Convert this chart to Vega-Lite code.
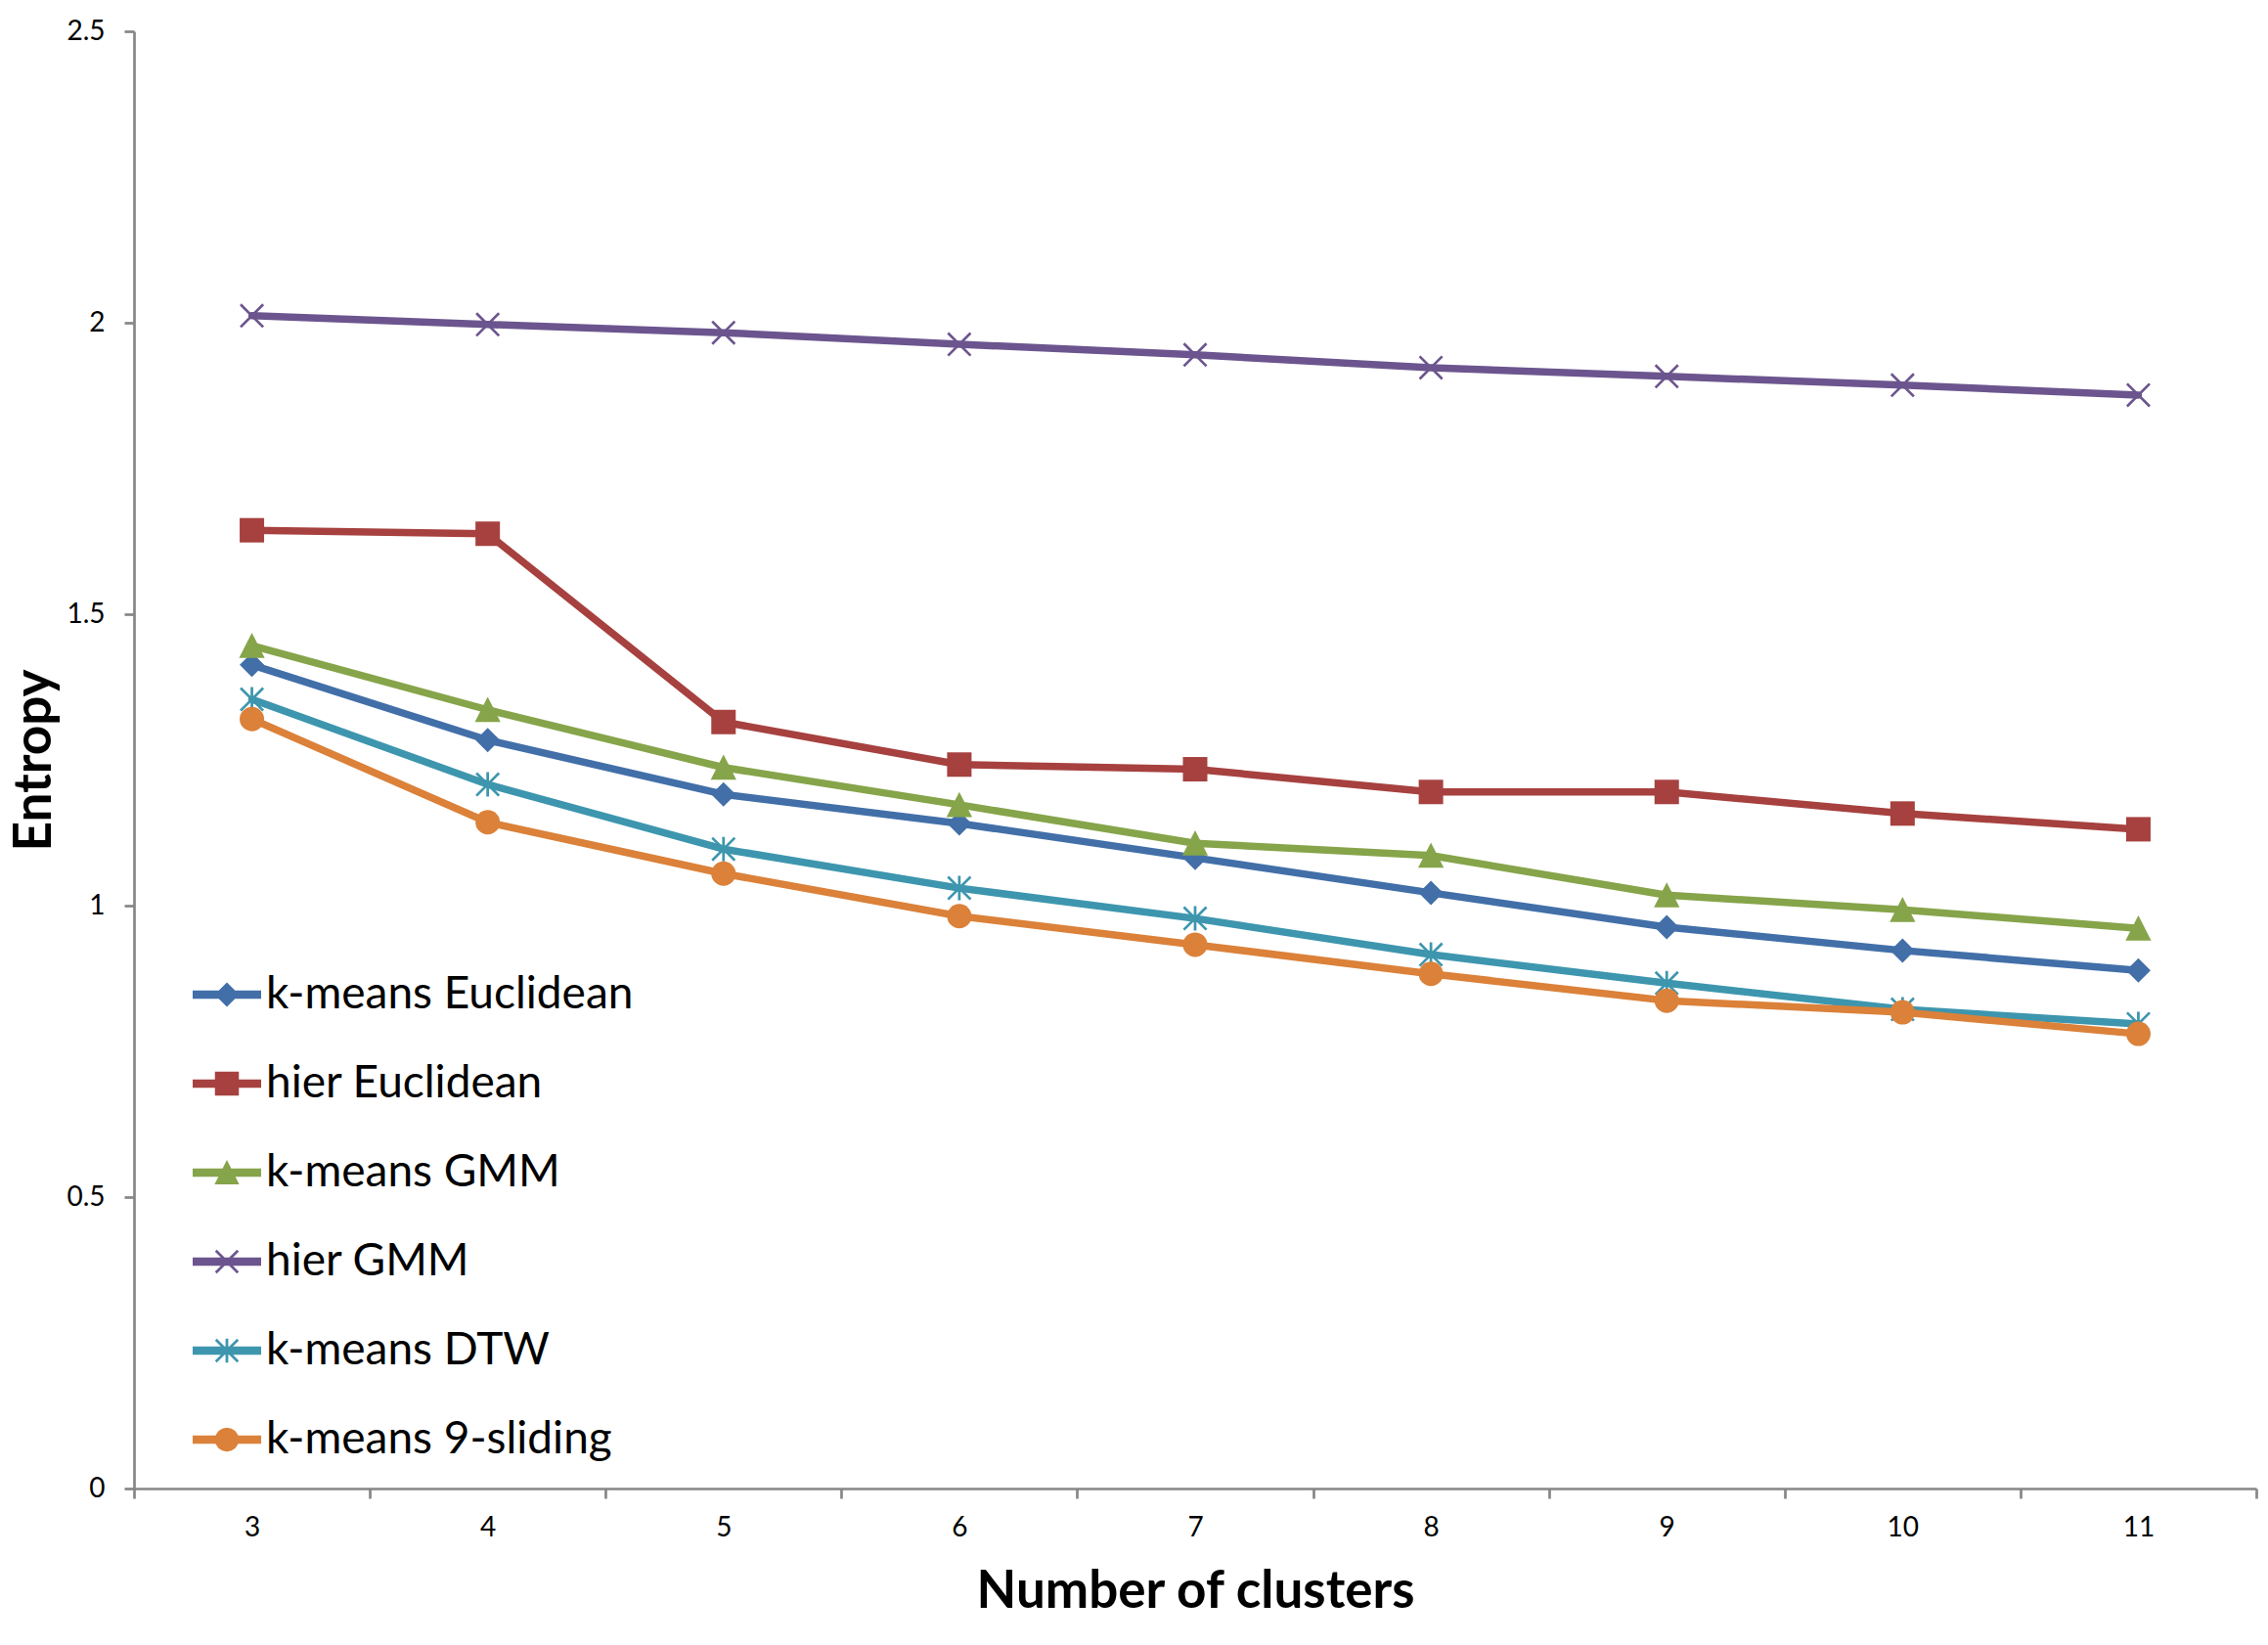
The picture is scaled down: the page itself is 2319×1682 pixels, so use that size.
{
  "$schema": "https://vega.github.io/schema/vega-lite/v6.json",
  "width": 2170,
  "height": 1490,
  "autosize": "none",
  "padding": {"left": 137, "top": 32, "right": 12, "bottom": 160},
  "background": "white",
  "config": {"view": {"stroke": null}},
  "data": {
    "values": [
      {"k": 3, "series": "k-means Euclidean", "entropy": 1.413},
      {"k": 4, "series": "k-means Euclidean", "entropy": 1.284},
      {"k": 5, "series": "k-means Euclidean", "entropy": 1.191},
      {"k": 6, "series": "k-means Euclidean", "entropy": 1.141},
      {"k": 7, "series": "k-means Euclidean", "entropy": 1.082},
      {"k": 8, "series": "k-means Euclidean", "entropy": 1.022},
      {"k": 9, "series": "k-means Euclidean", "entropy": 0.963},
      {"k": 10, "series": "k-means Euclidean", "entropy": 0.923},
      {"k": 11, "series": "k-means Euclidean", "entropy": 0.889},
      {"k": 3, "series": "hier Euclidean", "entropy": 1.644},
      {"k": 4, "series": "hier Euclidean", "entropy": 1.638},
      {"k": 5, "series": "hier Euclidean", "entropy": 1.315},
      {"k": 6, "series": "hier Euclidean", "entropy": 1.242},
      {"k": 7, "series": "hier Euclidean", "entropy": 1.234},
      {"k": 8, "series": "hier Euclidean", "entropy": 1.195},
      {"k": 9, "series": "hier Euclidean", "entropy": 1.195},
      {"k": 10, "series": "hier Euclidean", "entropy": 1.158},
      {"k": 11, "series": "hier Euclidean", "entropy": 1.131},
      {"k": 3, "series": "k-means GMM", "entropy": 1.446},
      {"k": 4, "series": "k-means GMM", "entropy": 1.336},
      {"k": 5, "series": "k-means GMM", "entropy": 1.237},
      {"k": 6, "series": "k-means GMM", "entropy": 1.173},
      {"k": 7, "series": "k-means GMM", "entropy": 1.107},
      {"k": 8, "series": "k-means GMM", "entropy": 1.086},
      {"k": 9, "series": "k-means GMM", "entropy": 1.018},
      {"k": 10, "series": "k-means GMM", "entropy": 0.993},
      {"k": 11, "series": "k-means GMM", "entropy": 0.961},
      {"k": 3, "series": "hier GMM", "entropy": 2.012},
      {"k": 4, "series": "hier GMM", "entropy": 1.997},
      {"k": 5, "series": "hier GMM", "entropy": 1.983},
      {"k": 6, "series": "hier GMM", "entropy": 1.963},
      {"k": 7, "series": "hier GMM", "entropy": 1.945},
      {"k": 8, "series": "hier GMM", "entropy": 1.923},
      {"k": 9, "series": "hier GMM", "entropy": 1.908},
      {"k": 10, "series": "hier GMM", "entropy": 1.893},
      {"k": 11, "series": "hier GMM", "entropy": 1.876},
      {"k": 3, "series": "k-means DTW", "entropy": 1.354},
      {"k": 4, "series": "k-means DTW", "entropy": 1.208},
      {"k": 5, "series": "k-means DTW", "entropy": 1.097},
      {"k": 6, "series": "k-means DTW", "entropy": 1.030},
      {"k": 7, "series": "k-means DTW", "entropy": 0.978},
      {"k": 8, "series": "k-means DTW", "entropy": 0.916},
      {"k": 9, "series": "k-means DTW", "entropy": 0.867},
      {"k": 10, "series": "k-means DTW", "entropy": 0.822},
      {"k": 11, "series": "k-means DTW", "entropy": 0.797},
      {"k": 3, "series": "k-means 9-sliding", "entropy": 1.320},
      {"k": 4, "series": "k-means 9-sliding", "entropy": 1.143},
      {"k": 5, "series": "k-means 9-sliding", "entropy": 1.055},
      {"k": 6, "series": "k-means 9-sliding", "entropy": 0.982},
      {"k": 7, "series": "k-means 9-sliding", "entropy": 0.933},
      {"k": 8, "series": "k-means 9-sliding", "entropy": 0.883},
      {"k": 9, "series": "k-means 9-sliding", "entropy": 0.837},
      {"k": 10, "series": "k-means 9-sliding", "entropy": 0.817},
      {"k": 11, "series": "k-means 9-sliding", "entropy": 0.780}
    ]
  },
  "encoding": {
    "x": {
      "field": "k",
      "type": "ordinal",
      "scale": {"type": "band", "paddingInner": 0, "paddingOuter": 0},
      "axis": {
        "title": "Number of clusters",
        "titleFont": "Lato",
        "titleFontWeight": "bold",
        "titleFontSize": 53,
        "titleColor": "black",
        "titleX": 1085,
        "titleY": 121,
        "titleBaseline": "alphabetic",
        "titleAlign": "center",
        "labelAngle": 0,
        "labelFont": "Lato",
        "labelFontSize": 28,
        "labelColor": "black",
        "labelPadding": 16,
        "labelBaseline": "top",
        "tickBand": "extent",
        "tickSize": 10,
        "tickWidth": 2.7,
        "tickColor": "#868686",
        "domainColor": "#868686",
        "domainWidth": 2.7,
        "grid": false
      }
    },
    "y": {
      "field": "entropy",
      "type": "quantitative",
      "scale": {"domain": [0, 2.5], "nice": false, "zero": true},
      "axis": {
        "title": "Entropy",
        "titleFont": "Lato",
        "titleFontWeight": "bold",
        "titleFontSize": 53,
        "titleColor": "black",
        "titleAngle": -90,
        "titleX": -102,
        "titleY": 745,
        "titleAlign": "center",
        "titleBaseline": "middle",
        "values": [0, 0.5, 1, 1.5, 2, 2.5],
        "format": "~g",
        "labelFont": "Lato",
        "labelFontSize": 28,
        "labelColor": "black",
        "labelPadding": 20,
        "tickSize": 10,
        "tickWidth": 2.7,
        "tickColor": "#868686",
        "domainColor": "#868686",
        "domainWidth": 2.7,
        "grid": false
      }
    }
  },
  "resolve": {
    "scale": {"shape": "independent"},
    "legend": {"color": "independent", "shape": "independent"}
  },
  "layer": [
    {
      "mark": {"type": "line", "strokeWidth": 7.5, "strokeJoin": "round", "strokeCap": "round"},
      "encoding": {
        "color": {
          "field": "series",
          "type": "nominal",
          "scale": {
            "domain": ["k-means Euclidean", "hier Euclidean", "k-means GMM", "hier GMM", "k-means DTW", "k-means 9-sliding"],
            "range": ["#426FA8", "#A6413F", "#86A44A", "#6C558E", "#3D96AE", "#DB8139"]
          },
          "legend": null
        }
      }
    },
    {
      "mark": {"type": "point", "filled": true, "size": 625, "opacity": 1, "strokeWidth": 0},
      "encoding": {
        "color": {"field": "series", "type": "nominal", "legend": null},
        "shape": {
          "field": "series",
          "type": "nominal",
          "scale": {
            "domain": ["k-means Euclidean", "hier Euclidean", "k-means GMM", "hier GMM", "k-means DTW", "k-means 9-sliding"],
            "range": [
              "M0,-1L1,0L0,1L-1,0Z",
              "M-1,-1L1,-1L1,1L-1,1Z",
              "M0,-1.05L1.05,1L-1.05,1Z",
              "M-1,-0.85L-0.85,-1L1,0.85L0.85,1Z M0.85,-1L1,-0.85L-0.85,1L-1,0.85Z",
              "M-1,-0.85L-0.85,-1L1,0.85L0.85,1Z M0.85,-1L1,-0.85L-0.85,1L-1,0.85Z M-0.11,-1L0.11,-1L0.11,1L-0.11,1Z",
              "circle"
            ]
          },
          "legend": null
        }
      }
    },
    {
      "mark": {"type": "point", "filled": true, "size": 0, "opacity": 1, "strokeWidth": 0},
      "encoding": {
        "color": {
          "field": "series",
          "type": "nominal",
          "legend": {
            "title": null,
            "orient": "none",
            "direction": "vertical",
            "legendX": 60,
            "legendY": 950,
            "padding": 0,
            "symbolSize": 4900,
            "symbolStrokeWidth": 0,
            "symbolOpacity": 1,
            "rowPadding": 33,
            "labelOffset": 5,
            "labelFont": "Lato",
            "labelFontSize": 46,
            "labelColor": "black",
            "labelLimit": 0
          }
        },
        "shape": {
          "field": "series",
          "type": "nominal",
          "scale": {
            "domain": ["k-means Euclidean", "hier Euclidean", "k-means GMM", "hier GMM", "k-means DTW", "k-means 9-sliding"],
            "range": [
              "M-1,-0.12L1,-0.12L1,0.12L-1,0.12Z M0,-0.36L0.36,0L0,0.36L-0.36,0Z",
              "M-1,-0.12L1,-0.12L1,0.12L-1,0.12Z M-0.35,-0.35L0.35,-0.35L0.35,0.35L-0.35,0.35Z",
              "M-1,-0.12L1,-0.12L1,0.12L-1,0.12Z M0,-0.37L0.36,0.34L-0.36,0.34Z",
              "M-1,-0.12L1,-0.12L1,0.12L-1,0.12Z M-0.35,-0.295L-0.295,-0.35L0.35,0.295L0.295,0.35Z M0.295,-0.35L0.35,-0.295L-0.295,0.35L-0.35,0.295Z",
              "M-1,-0.12L1,-0.12L1,0.12L-1,0.12Z M-0.35,-0.295L-0.295,-0.35L0.35,0.295L0.295,0.35Z M0.295,-0.35L0.35,-0.295L-0.295,0.35L-0.35,0.295Z M-0.04,-0.35L0.04,-0.35L0.04,0.35L-0.04,0.35Z",
              "M-1,-0.12L1,-0.12L1,0.12L-1,0.12Z M0.35,0L0.323,0.134L0.247,0.247L0.134,0.323L0,0.35L-0.134,0.323L-0.247,0.247L-0.323,0.134L-0.35,0L-0.323,-0.134L-0.247,-0.247L-0.134,-0.323L0,-0.35L0.134,-0.323L0.247,-0.247L0.323,-0.134Z"
            ]
          },
          "legend": {
            "title": null,
            "orient": "none",
            "direction": "vertical",
            "legendX": 60,
            "legendY": 950,
            "padding": 0,
            "symbolSize": 4900,
            "symbolStrokeWidth": 0,
            "symbolOpacity": 1,
            "rowPadding": 33,
            "labelOffset": 5,
            "labelFont": "Lato",
            "labelFontSize": 46,
            "labelColor": "black",
            "labelLimit": 0
          }
        }
      }
    }
  ]
}
